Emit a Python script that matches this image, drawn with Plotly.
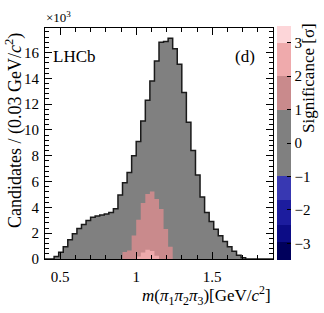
import plotly.graph_objects as go

# ---- data (counts in units of 10^3 per 0.03 GeV/c^2 bin) ----
bin_width = 0.03
first_edge = 0.40
all_counts = [0, 0, 0.2, 0.53, 0.94, 1.5, 1.95, 2.36, 2.67, 2.98,
              3.23, 3.34, 3.41, 3.49, 3.6, 3.9, 4.95, 5.9, 6.7, 8.0,
              9.1, 10.7, 12.3, 13.8, 15.35, 16.8, 16.85, 17.1, 16.3, 15.1,
              12.9, 10.6, 8.4, 6.5, 4.8, 3.6, 2.9, 2.3, 1.8, 1.35,
              0.95, 0.6, 0.3, 0.1, 0, 0, 0, 0, 0, 0]
sig_1to2_counts = [0] * 17 + [0.55, 0.65, 1.82, 3.05, 4.34, 5.04, 5.24, 4.65, 3.88,
                              2.33, 0.94] + [0] * 22
sig_2to3_counts = [0] * 20 + [0.2, 0.5, 0.72, 0.62, 0.25] + [0] * 25

sig_levels = [-3.5, -2.95, -2.45, -1.7, -1, 1, 2, 3, 3.5]
sig_colors = ["#00005c", "#0c0c86", "#1c1c9e", "#3838b2", "#808080",
              "#c98a8c", "#efaaac", "#fdd6d9"]
sig_ticks = [-3, -2, -1, 0, 1, 2, 3]

x_range = [0.40, 1.90]
y_range = [0, 17.9]

FONT = "Liberation Serif, Times New Roman, Times, serif"


def step_xy(counts):
    edges = [first_edge + bin_width * i for i in range(len(counts) + 1)]
    xs = [edges[0]] + edges
    ys = [0] + list(counts) + [0]
    return xs, ys


fig = go.Figure()

gx, gy = step_xy(all_counts)
fig.add_trace(go.Scatter(x=gx, y=gy, mode="lines", line_shape="hv",
                         fill="tozeroy", fillcolor=sig_colors[4],
                         line=dict(color="#1a1a1a", width=1.5),
                         hoverinfo="skip", showlegend=False))

mx, my = step_xy(sig_1to2_counts)
fig.add_trace(go.Scatter(x=mx, y=my, mode="lines", line_shape="hv",
                         fill="tozeroy", fillcolor=sig_colors[5],
                         line=dict(color=sig_colors[5], width=0),
                         hoverinfo="skip", showlegend=False))

px_, py_ = step_xy(sig_2to3_counts)
fig.add_trace(go.Scatter(x=px_, y=py_, mode="lines", line_shape="hv",
                         fill="tozeroy", fillcolor=sig_colors[6],
                         line=dict(color=sig_colors[6], width=0),
                         hoverinfo="skip", showlegend=False))

# discrete colour scale for the significance bar
lo, hi = sig_levels[0], sig_levels[-1]
cs = []
for i, c in enumerate(sig_colors):
    a = (sig_levels[i] - lo) / (hi - lo)
    b = (sig_levels[i + 1] - lo) / (hi - lo)
    cs.append([a, c])
    cs.append([b, c])

fig.add_trace(go.Scatter(
    x=[1.0], y=[5.0], mode="markers",
    marker=dict(size=1, opacity=0, color=[0], colorscale=cs, cmin=lo, cmax=hi,
                showscale=True,
                colorbar=dict(x=1.0175, xanchor="left", xpad=0,
                              y=0.502, yanchor="middle", ypad=0,
                              thickness=14, len=234, lenmode="pixels",
                              outlinewidth=0,
                              tickvals=sig_ticks, ticks="inside", ticklen=4,
                              tickcolor="black",
                              tickfont=dict(family=FONT, size=15, color="black"))),
    hoverinfo="skip", showlegend=False))

axis_common = dict(showline=True, linecolor="black", linewidth=1, mirror="ticks",
                   ticks="inside", ticklen=7, tickcolor="black", tickwidth=1,
                   showgrid=False, zeroline=False,
                   tickfont=dict(family=FONT, size=15, color="black"))

fig.update_xaxes(range=x_range, dtick=0.5, tick0=0,
                 minor=dict(dtick=0.1, ticks="inside", ticklen=4, tickcolor="black"),
                 ticklabelstandoff=4, **axis_common)
fig.update_yaxes(range=y_range, dtick=2, tick0=0,
                 minor=dict(dtick=0.4, ticks="inside", ticklen=4, tickcolor="black"),
                 ticklabelstandoff=2, **axis_common)

W, H = 324, 313
L, R, T, B = 45, 51, 28, 54
pw, ph = W - L - R, H - T - B


def px2paper(px, py):
    return (px - L) / pw, (H - B - py) / ph


annos = []
ax, ay = px2paper(74, 56)
annos.append(dict(text="LHCb", x=ax, y=ay, xanchor="center", yanchor="middle",
                  font=dict(family=FONT, size=17, color="black")))
ax, ay = px2paper(245, 57)
annos.append(dict(text="(d)", x=ax, y=ay, xanchor="center", yanchor="middle",
                  font=dict(family=FONT, size=17, color="black")))
ax, ay = px2paper(44, 27)
annos.append(dict(text="×10<sup>3</sup>", x=ax, y=ay, xanchor="left", yanchor="bottom",
                  font=dict(family=FONT, size=13, color="black")))
ax, ay = px2paper(14, 131)
annos.append(dict(text="Candidates / (0.03 GeV/<i>c</i><sup>2</sup>)", x=ax, y=ay,
                  textangle=-90, xanchor="center", yanchor="middle",
                  font=dict(family=FONT, size=18, color="black")))
ax, ay = px2paper(206, 295)
annos.append(dict(text="<i>m</i>(<i>π</i><sub>1</sub><i>π</i><sub>2</sub><i>π</i><sub>3</sub>)[GeV/<i>c</i><sup>2</sup>]",
                  x=ax, y=ay, xanchor="center", yanchor="middle",
                  font=dict(family=FONT, size=17, color="black")))
ax, ay = px2paper(308, 78)
annos.append(dict(text="Significance [σ]", x=ax, y=ay, textangle=-90,
                  xanchor="center", yanchor="middle",
                  font=dict(family=FONT, size=17, color="black")))
for a in annos:
    a.update(xref="paper", yref="paper", showarrow=False)

fig.update_layout(width=W, height=H,
                  margin=dict(l=L, r=R, t=T, b=B, autoexpand=False),
                  paper_bgcolor="white", plot_bgcolor="white",
                  annotations=annos, showlegend=False)

fig.write_html("out.html", config={"displayModeBar": False},
               post_script="document.body.style.margin='0';document.body.style.padding='0';")
